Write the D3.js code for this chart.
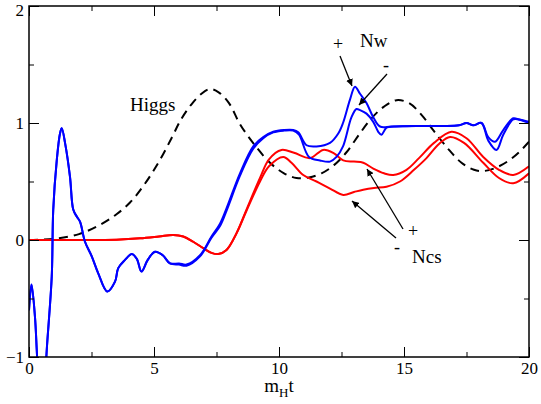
<!DOCTYPE html>
<html>
<head>
<meta charset="utf-8">
<script src="https://cdn.jsdelivr.net/npm/d3@7"></script>
<style>
  body { margin: 0; background: white; }
</style>
</head>
<body>
<div id="chart"></div>
<script>
// values, [m_H t, value]
const higgs = [
  [0, 0], [1, 0.01], [2, 0.05], [2.84, 0.13], [3.5, 0.22], [4.04, 0.32], [4.6, 0.47],
  [5.2, 0.67], [5.7, 0.87], [6.08, 1.03], [6.5, 1.16], [6.9, 1.25], [7.24, 1.29],
  [7.6, 1.26], [8.0, 1.17], [8.44, 0.99], [9.0, 0.82], [9.64, 0.66], [10.2, 0.57],
  [10.7, 0.53], [11.2, 0.535], [11.7, 0.57], [12.2, 0.64], [12.7, 0.75], [13.2, 0.9],
  [13.7, 1.04], [14.2, 1.14], [14.7, 1.195], [15.2, 1.17], [15.7, 1.07], [16.2, 0.93],
  [16.8, 0.77], [17.3, 0.66], [17.8, 0.6], [18.2, 0.59], [18.7, 0.62], [19.2, 0.68],
  [19.6, 0.75], [20, 0.84]
];

const nwPlus = [
  [0, -0.6], [0.1, -0.38], [0.24, -0.66], [0.31, -0.94], [0.4, -1.3], [0.5, -1.5],
  [0.6, -1.35], [0.71, -0.94], [0.91, -0.31], [0.97, 0.26], [1.11, 0.68], [1.24, 0.91],
  [1.31, 0.955], [1.45, 0.82], [1.64, 0.54], [1.77, 0.26], [1.91, 0.2], [2.04, 0.157],
  [2.24, -0.015], [2.51, -0.14], [2.77, -0.285], [3.13, -0.44], [3.44, -0.356],
  [3.57, -0.24], [3.84, -0.17], [4.11, -0.12], [4.31, -0.16], [4.5, -0.27], [4.75, -0.17],
  [5.04, -0.1], [5.35, -0.13], [5.64, -0.2], [6.0, -0.2], [6.3, -0.21], [6.84, -0.13],
  [7.3, 0.03], [7.64, 0.14], [7.9, 0.27], [8.44, 0.57], [8.97, 0.8], [9.37, 0.88],
  [9.77, 0.925], [10.2, 0.94], [10.57, 0.94], [10.77, 0.92], [11.1, 0.81], [11.5, 0.8],
  [12.04, 0.83], [12.37, 0.91], [12.56, 1.0], [12.84, 1.2], [13.04, 1.31], [13.24, 1.25],
  [13.5, 1.17], [13.77, 1.05], [14.04, 0.97], [14.5, 0.97], [15.5, 0.975], [16.5, 0.975],
  [17.2, 0.98], [17.5, 1.0], [17.77, 0.98], [18.1, 1.0], [18.37, 0.88], [18.64, 0.84],
  [18.97, 0.94], [19.37, 1.04], [19.6, 1.03], [20, 1.0]
];

const nwMinus = [
  [0, -0.6], [0.1, -0.38], [0.24, -0.66], [0.31, -0.94], [0.4, -1.3], [0.5, -1.5],
  [0.6, -1.35], [0.71, -0.94], [0.91, -0.31], [0.97, 0.26], [1.11, 0.68], [1.24, 0.91],
  [1.31, 0.955], [1.45, 0.82], [1.64, 0.54], [1.77, 0.26], [1.91, 0.2], [2.04, 0.157],
  [2.24, -0.015], [2.51, -0.14], [2.77, -0.285], [3.13, -0.44], [3.44, -0.356],
  [3.57, -0.24], [3.84, -0.17], [4.11, -0.12], [4.31, -0.16], [4.5, -0.27], [4.75, -0.17],
  [5.04, -0.1], [5.35, -0.13], [5.64, -0.2], [6.0, -0.21], [6.3, -0.22], [6.84, -0.14],
  [7.3, 0.02], [7.64, 0.12], [7.9, 0.25], [8.44, 0.55], [8.97, 0.78], [9.37, 0.87],
  [9.77, 0.92], [10.2, 0.935], [10.57, 0.935], [10.8, 0.9], [11.2, 0.71], [11.64, 0.68],
  [12.04, 0.67], [12.3, 0.71], [12.56, 0.8], [12.9, 1.05], [13.1, 1.12], [13.24, 1.11],
  [13.5, 1.08], [13.77, 1.01], [13.97, 0.925], [14.1, 0.9], [14.3, 0.96], [14.6, 0.97],
  [15.5, 0.975], [16.5, 0.975], [17.2, 0.98], [17.5, 1.0], [17.77, 0.98], [18.1, 1.0],
  [18.37, 0.85], [18.7, 0.77], [18.97, 0.9], [19.37, 1.03], [19.6, 1.03], [20, 1.01]
];

const ncsPlus = [
  [0, 0], [2, 0], [3.5, 0.003], [4.44, 0.014], [5.2, 0.03], [5.77, 0.043], [6.17, 0.03],
  [6.57, -0.015], [6.97, -0.07], [7.3, -0.11], [7.57, -0.12], [7.9, -0.085], [8.3, 0.057],
  [8.7, 0.26], [9.24, 0.53], [9.6, 0.69], [10.1, 0.77], [10.6, 0.745], [11.24, 0.7],
  [11.77, 0.77], [12.2, 0.74], [12.57, 0.68], [13.0, 0.67], [13.37, 0.66], [13.77, 0.61],
  [14.2, 0.57], [14.57, 0.555], [15.1, 0.6], [15.6, 0.7], [16.2, 0.83], [16.9, 0.925],
  [17.5, 0.87], [18.17, 0.71], [18.8, 0.6], [19.37, 0.556], [20, 0.63]
];

const ncsMinus = [
  [0, 0], [2, 0], [3.5, 0.003], [4.44, 0.014], [5.2, 0.03], [5.77, 0.043], [6.17, 0.03],
  [6.57, -0.015], [6.97, -0.07], [7.3, -0.11], [7.57, -0.12], [7.9, -0.085], [8.3, 0.057],
  [8.7, 0.25], [9.24, 0.5], [9.6, 0.63], [10.17, 0.71], [10.5, 0.66], [10.97, 0.556],
  [11.5, 0.5], [12.04, 0.44], [12.57, 0.385], [13.0, 0.41], [13.37, 0.43], [13.8, 0.445],
  [14.3, 0.455], [14.84, 0.5], [15.4, 0.6], [15.9, 0.7], [16.4, 0.82], [16.84, 0.88],
  [17.4, 0.83], [18.17, 0.66], [18.8, 0.53], [19.37, 0.485], [20, 0.57]
];

const xTicks = [0, 5, 10, 15, 20];
const xMinor = [2.5, 7.5, 12.5, 17.5];
const yTicks = [-1, 0, 1, 2];
const yMinor = [-0.5, 0.5, 1.5];

// annotations: [text, t, v]
const labels = [
  ['Higgs', 4.04, 1.10],
  ['Nw', 13.24, 1.65],
  ['Ncs', 15.32, -0.2]
];
const signs = [
  ['+', 12.36, 1.675],
  ['-', 14.28, 1.5],
  ['+', 15.36, 0.077],
  ['-', 14.72, -0.06]
];
// arrows: [t0, v0, t1, v1]
const arrows = [
  [12.44, 1.573, 12.92, 1.316],
  [14.32, 1.419, 13.2, 1.154],
  [14.96, 0.094, 13.52, 0.607],
  [14.68, 0.017, 12.92, 0.333]
];

const serif = '"Liberation Serif", serif';

const W = 541, H = 404;
const margin = { top: 6, right: 12, bottom: 47, left: 29 };
const w = W - margin.left - margin.right;
const h = H - margin.top - margin.bottom;

const x = d3.scaleLinear().domain([0, 20]).range([0, w]);
const y = d3.scaleLinear().domain([-1, 2]).range([h, 0]);

const svg = d3.select('#chart').append('svg')
    .attr('width', W)
    .attr('height', H)
    .style('background', 'white');

svg.append('defs').call(d => {
    d.append('clipPath').attr('id', 'clip')
        .append('rect').attr('width', w).attr('height', h);
    d.append('marker')
        .attr('id', 'head')
        .attr('viewBox', '0 0 10 10')
        .attr('refX', 10).attr('refY', 5)
        .attr('markerWidth', 7).attr('markerHeight', 7)
        .attr('markerUnits', 'userSpaceOnUse')
        .attr('orient', 'auto')
        .append('path').attr('d', 'M0,0 L10,5 L0,10 z').attr('fill', 'black');
});

const chart = svg.append('g')
    .attr('transform', 'translate(' + margin.left + ',' + margin.top + ')');

const line = d3.line()
    .x(d => x(d[0]))
    .y(d => y(d[1]))
    .curve(d3.curveCatmullRom.alpha(0.5));

const plot = chart.append('g').attr('clip-path', 'url(#clip)');

plot.append('path').datum(higgs)
    .attr('d', line)
    .attr('fill', 'none')
    .attr('stroke', 'black')
    .attr('stroke-width', 2)
    .attr('stroke-dasharray', '9,6');

for (let s of [ncsPlus, ncsMinus]) {
    plot.append('path').datum(s)
        .attr('d', line)
        .attr('fill', 'none')
        .attr('stroke', '#ff0000')
        .attr('stroke-width', 2);
}

for (let s of [nwPlus, nwMinus]) {
    plot.append('path').datum(s)
        .attr('d', line)
        .attr('fill', 'none')
        .attr('stroke', '#0000ff')
        .attr('stroke-width', 2);
}

// axes, ticks pointing inward on all four sides
function styleAxis(g) {
    g.attr('font-family', null);
    g.select('.domain').remove();
    g.selectAll('line').attr('stroke', 'black').attr('stroke-width', 1);
    g.selectAll('text').attr('font-size', 17).attr('fill', 'black')
        .style('font-family', serif);
}

chart.append('g')
    .attr('transform', 'translate(0,' + h + ')')
    .call(d3.axisBottom(x).tickValues(xTicks).tickSize(-10).tickPadding(5).tickFormat(d3.format('d')))
    .call(styleAxis);
chart.append('g')
    .attr('transform', 'translate(0,' + h + ')')
    .call(d3.axisBottom(x).tickValues(xMinor).tickSize(-5).tickFormat(''))
    .call(styleAxis);
chart.append('g')
    .call(d3.axisTop(x).tickValues(xTicks).tickSize(-10).tickFormat(''))
    .call(styleAxis);
chart.append('g')
    .call(d3.axisTop(x).tickValues(xMinor).tickSize(-5).tickFormat(''))
    .call(styleAxis);
chart.append('g')
    .call(d3.axisLeft(y).tickValues(yTicks).tickSize(-10).tickPadding(5).tickFormat(d3.format('d')))
    .call(styleAxis)
    .call(g => g.selectAll('text').filter(d => d === 2).attr('dy', '0.55em'));
chart.append('g')
    .call(d3.axisLeft(y).tickValues(yMinor).tickSize(-5).tickFormat(''))
    .call(styleAxis);
chart.append('g')
    .attr('transform', 'translate(' + w + ',0)')
    .call(d3.axisRight(y).tickValues(yTicks).tickSize(-10).tickFormat(''))
    .call(styleAxis);
chart.append('g')
    .attr('transform', 'translate(' + w + ',0)')
    .call(d3.axisRight(y).tickValues(yMinor).tickSize(-5).tickFormat(''))
    .call(styleAxis);

chart.append('rect')
    .attr('width', w)
    .attr('height', h)
    .attr('fill', 'none')
    .attr('stroke', 'black')
    .attr('stroke-width', 1.5);

// axis title m_H t
const title = chart.append('text')
    .attr('x', x(10))
    .attr('y', h + 35)
    .attr('text-anchor', 'middle')
    .attr('font-size', 19)
    .style('font-family', serif);
title.append('tspan').text('m');
title.append('tspan').attr('font-size', 13).attr('dy', 5).text('H');
title.append('tspan').attr('dy', -5).text('t');

// annotations
chart.selectAll('.label')
    .data(labels)
    .enter()
    .append('text')
        .attr('class', 'label')
        .attr('x', d => x(d[1]))
        .attr('y', d => y(d[2]))
        .attr('font-size', 19)
        .style('font-family', serif)
        .text(d => d[0]);

chart.selectAll('.sign')
    .data(signs)
    .enter()
    .append('text')
        .attr('class', 'sign')
        .attr('x', d => x(d[1]))
        .attr('y', d => y(d[2]))
        .attr('dy', '0.35em')
        .attr('text-anchor', 'middle')
        .attr('font-size', 18)
        .style('font-family', serif)
        .text(d => d[0]);

chart.selectAll('.arrow')
    .data(arrows)
    .enter()
    .append('line')
        .attr('class', 'arrow')
        .attr('x1', d => x(d[0]))
        .attr('y1', d => y(d[1]))
        .attr('x2', d => x(d[2]))
        .attr('y2', d => y(d[3]))
        .attr('stroke', 'black')
        .attr('stroke-width', 1.3)
        .attr('marker-end', 'url(#head)');
</script>
</body>
</html>
